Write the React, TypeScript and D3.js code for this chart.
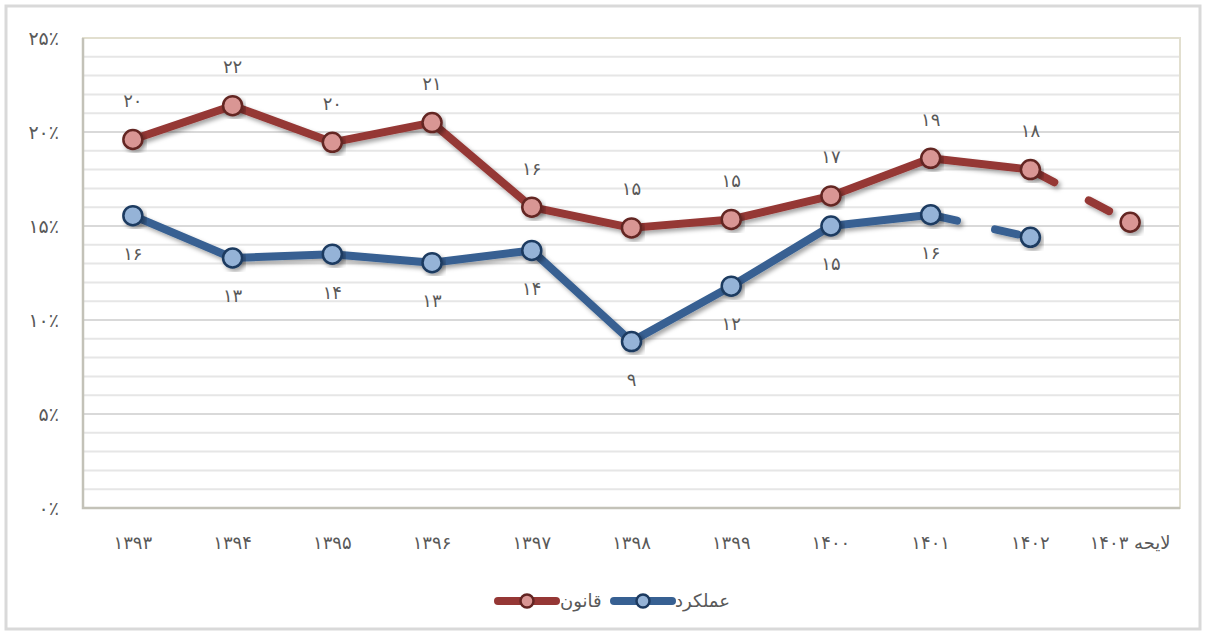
import React, { useEffect, useRef } from "react";
import * as d3 from "d3";

// categories (Persian years), last one is the budget bill
const categories = ["۱۳۹۳", "۱۳۹۴", "۱۳۹۵", "۱۳۹۶", "۱۳۹۷", "۱۳۹۸", "۱۳۹۹", "۱۴۰۰", "۱۴۰۱", "۱۴۰۲", "لایحه ۱۴۰۳"];

// قانون (law)
const lawValues = [19.6, 21.4, 19.45, 20.5, 16.0, 14.9, 15.35, 16.6, 18.6, 18.0, 15.2];
const lawLabels = ["۲۰", "۲۲", "۲۰", "۲۱", "۱۶", "۱۵", "۱۵", "۱۷", "۱۹", "۱۸", ""];

// عملکرد (actual)
const actualValues = [15.55, 13.3, 13.5, 13.05, 13.7, 8.85, 11.8, 15.0, 15.6, 14.4];
const actualLabels = ["۱۶", "۱۳", "۱۴", "۱۳", "۱۴", "۹", "۱۲", "۱۵", "۱۶", ""];

const yTicks = [0, 5, 10, 15, 20, 25];
const yTickLabels = ["۰٪", "۵٪", "۱۰٪", "۱۵٪", "۲۰٪", "۲۵٪"];

const FONT = "'DejaVu Sans', sans-serif";
const TEXT = "#595959";

const App = () => {
  const svgRef = useRef<SVGSVGElement>(null);

  useEffect(() => {
    document.body.style.margin = "0";
    const width = 1205;
    const height = 635;
    const left = 83;
    const right = 1180;
    const top = 38;
    const bottom = 508;

    const svg = d3.select(svgRef.current);
    svg.selectAll("*").remove();
    svg.attr("width", width).attr("height", height).style("display", "block");

    const defs = svg.append("defs");
    const filter = defs
      .append("filter")
      .attr("id", "shadow")
      .attr("x", "-20%")
      .attr("y", "-20%")
      .attr("width", "140%")
      .attr("height", "140%");
    filter
      .append("feDropShadow")
      .attr("dx", 2.5)
      .attr("dy", 3)
      .attr("stdDeviation", 2)
      .attr("flood-color", "#000")
      .attr("flood-opacity", 0.35);

    // outer border
    svg
      .append("rect")
      .attr("x", 6)
      .attr("y", 6)
      .attr("width", 1194)
      .attr("height", 623)
      .attr("fill", "#fff")
      .attr("stroke", "#d9d9d9")
      .attr("stroke-width", 3);

    const x = d3.scaleBand<string>().domain(categories).range([left, right]).padding(0);
    const y = d3.scaleLinear().domain([0, 25]).range([bottom, top]);
    const cx = (i: number) => (x(categories[i]) as number) + x.bandwidth() / 2;

    // gridlines every 1%
    svg
      .append("g")
      .selectAll("line")
      .data(d3.range(1, 25))
      .join("line")
      .attr("x1", left)
      .attr("x2", right)
      .attr("y1", (d) => y(d))
      .attr("y2", (d) => y(d))
      .attr("stroke", (d) => (d % 5 === 0 ? "#d9d9d9" : "#e6e6e6"))
      .attr("stroke-width", 2);

    // plot area border
    svg
      .append("rect")
      .attr("x", left)
      .attr("y", top)
      .attr("width", right - left)
      .attr("height", bottom - top)
      .attr("fill", "none")
      .attr("stroke", "#e2dfcf")
      .attr("stroke-width", 2);
    svg
      .append("path")
      .attr("d", `M${left},${top}V${bottom}H${right}`)
      .attr("fill", "none")
      .attr("stroke", "#c3c2b8")
      .attr("stroke-width", 2.5);

    // y axis labels
    svg
      .append("g")
      .selectAll("text")
      .data(yTicks)
      .join("text")
      .attr("x", 59)
      .attr("y", (d) => y(d))
      .attr("dy", "0.35em")
      .attr("text-anchor", "end")
      .attr("fill", TEXT)
      .style("font-family", FONT)
      .style("font-size", "19px")
      .text((d, i) => yTickLabels[i]);

    // x axis labels
    svg
      .append("g")
      .selectAll("text")
      .data(categories)
      .join("text")
      .attr("x", (d, i) => cx(i))
      .attr("y", 543)
      .attr("dy", "0.35em")
      .attr("text-anchor", "middle")
      .attr("fill", TEXT)
      .style("font-family", FONT)
      .style("font-size", "18px")
      .text((d) => d);

    const drawSeries = (
      values: number[],
      labels: string[],
      lineColor: string,
      fill: string,
      edge: string,
      labelDy: number
    ) => {
      const g = svg.append("g");
      const pts: [number, number][] = values.map((v, i) => [cx(i), y(v)]);
      // last segment is dashed (forecast / missing year)
      const solid = pts.slice(0, pts.length - 1);
      const last = pts.slice(pts.length - 2);
      const path = d3.line();
      g.append("path")
        .attr("d", path(solid))
        .attr("fill", "none")
        .attr("stroke", lineColor)
        .attr("stroke-width", 8)
        .attr("stroke-linejoin", "round")
        .attr("filter", "url(#shadow)");
      g.append("path")
        .attr("d", path(last))
        .attr("fill", "none")
        .attr("stroke", lineColor)
        .attr("stroke-width", 8)
        .attr("stroke-linecap", "round")
        .attr("stroke-dasharray", "23 39")
        .attr("stroke-dashoffset", -4)
        .attr("filter", "url(#shadow)");
      g.selectAll("circle")
        .data(pts)
        .join("circle")
        .attr("cx", (d) => d[0])
        .attr("cy", (d) => d[1])
        .attr("r", 9.5)
        .attr("fill", fill)
        .attr("stroke", edge)
        .attr("stroke-width", 2.5)
        .attr("filter", "url(#shadow)");
      g.selectAll("text")
        .data(pts)
        .join("text")
        .attr("x", (d) => d[0])
        .attr("y", (d) => d[1] + labelDy)
        .attr("dy", "0.35em")
        .attr("text-anchor", "middle")
        .attr("fill", TEXT)
        .style("font-family", FONT)
        .style("font-size", "18px")
        .text((d, i) => labels[i]);
    };

    drawSeries(lawValues, lawLabels, "#953735", "#d99694", "#632523", -39);
    drawSeries(actualValues, actualLabels, "#376092", "#95b3d7", "#1c3a60", 38);

    // legend
    const legend = svg.append("g");
    const items = [
      { name: "قانون", color: "#953735", fill: "#d99694", edge: "#632523", x0: 498, x1: 556, tx: 560 },
      { name: "عملکرد", color: "#376092", fill: "#95b3d7", edge: "#1c3a60", x0: 614, x1: 672, tx: 675 },
    ];
    items.forEach((it) => {
      legend
        .append("line")
        .attr("x1", it.x0)
        .attr("x2", it.x1)
        .attr("y1", 601)
        .attr("y2", 601)
        .attr("stroke", it.color)
        .attr("stroke-width", 8)
        .attr("stroke-linecap", "round");
      legend
        .append("circle")
        .attr("cx", (it.x0 + it.x1) / 2)
        .attr("cy", 601)
        .attr("r", 6.5)
        .attr("fill", it.fill)
        .attr("stroke", it.edge)
        .attr("stroke-width", 2.5);
      legend
        .append("text")
        .attr("x", it.tx)
        .attr("y", 601)
        .attr("dy", "0.35em")
        .attr("text-anchor", "start")
        .attr("fill", TEXT)
        .style("font-family", FONT)
        .style("font-size", "18px")
        .text(it.name);
    });
  }, []);

  return <svg ref={svgRef}></svg>;
};

export default App;
